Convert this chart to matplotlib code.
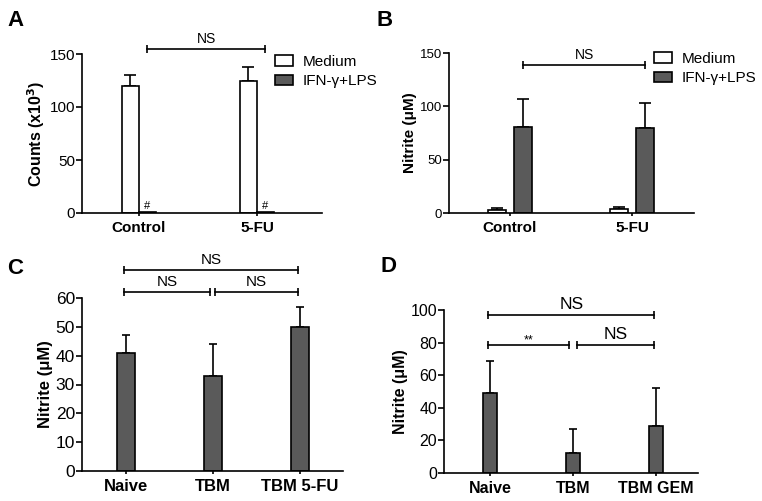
import numpy as np
import matplotlib
matplotlib.use('Agg')
import matplotlib.pyplot as plt
import matplotlib.transforms as mtransforms

plt.rcParams['font.family'] = ['Liberation Sans', 'DejaVu Sans']

# panel A: cell counts (x10^3)
groups_ab = ['Control', '5-FU']
a_medium = [120, 125]
a_medium_err = [10, 13]
a_ifn = [0.6, 0.6]

# panel B: nitrite (uM)
b_medium = [2.5, 3.5]
b_medium_err = [2, 2.5]
b_ifn = [81, 80]
b_ifn_err = [26, 23]

# panel C
c_groups = ['Naive', 'TBM', 'TBM 5-FU']
c_vals = [41, 33, 50]
c_err = [6, 11, 7]

# panel D
d_groups = ['Naive', 'TBM', 'TBM GEM']
d_vals = [49, 12, 29]
d_err = [19.5, 15, 23]

gray = '#5a5a5a'
W, H = 762, 501
fig = plt.figure(figsize=(W / 100, H / 100), dpi=100)


def px_axes(l, r, t, b):
    return fig.add_axes([l / W, 1 - b / H, (r - l) / W, (b - t) / H])


def style(ax, ytick_size, xtick_size):
    for s in ['top', 'right']:
        ax.spines[s].set_visible(False)
    for s in ['left', 'bottom']:
        ax.spines[s].set_linewidth(1.2)
    ax.tick_params(axis='y', length=4, width=1.2, labelsize=ytick_size, pad=1)
    ax.tick_params(axis='x', length=2.5, width=1.2, labelsize=xtick_size, pad=3)
    for lab in ax.get_xticklabels():
        lab.set_fontweight('bold')


def bracket(ax, x1, x2, y, text, size, cap=3, dy=2):
    ax.plot([x1, x2], [y, y], color='black', lw=1.2, clip_on=False)
    ax.plot([x1, x2], [y, y], ls='none', marker='|', markersize=2 * cap,
            markeredgewidth=1.2, color='black', clip_on=False)
    tt = mtransforms.offset_copy(ax.transData, fig=fig, y=dy, units='points')
    ax.text((x1 + x2) / 2, y, text, ha='center', va='bottom', fontsize=size,
            transform=tt, clip_on=False)


def errs(ax, x, v, e, cap=3):
    ax.errorbar(x, v, yerr=[np.zeros(len(e)), e], fmt='none', ecolor='black',
                elinewidth=1.2, capsize=cap, capthick=1.2, zorder=1)


# ---------- A ----------
ax = px_axes(82, 322, 54, 213)
x = np.arange(2)
bw = 0.144
errs(ax, x - bw / 2, a_medium, a_medium_err, cap=4)
m1 = ax.bar(x - bw / 2, a_medium, bw, color='white', edgecolor='black', lw=1.2, zorder=2)
m2 = ax.bar(x + bw / 2, a_ifn, bw, color=gray, edgecolor='black', lw=1.2, zorder=2)
for xi in x:
    ax.text(xi + bw / 2, 2, '#', ha='center', va='bottom', fontsize=8)
ax.set_xlim(-0.483, 1.551)
ax.set_ylim(0, 150)
ax.set_yticks([0, 50, 100, 150])
ax.set_xticks(x)
ax.set_xticklabels(groups_ab)
ax.set_ylabel('Counts (x10$^{\\mathbf{3}}$)', fontsize=11.5, fontweight='bold', labelpad=2)
style(ax, 11, 11)
bracket(ax, x[0] + bw / 2, x[1] + bw / 2, 155, 'NS', 10)
ax.legend([m1, m2], ['Medium', 'IFN-γ+LPS'], loc='upper left',
          bbox_to_anchor=(275 / W, 1 - 55 / H), bbox_transform=fig.transFigure,
          frameon=False, fontsize=11, handlelength=1.2, handleheight=0.7,
          handletextpad=0.6, labelspacing=0.35, borderpad=0, borderaxespad=0)
fig.text(7 / W, 1 - 26 / H, 'A', fontsize=16, fontweight='bold')

# ---------- B ----------
ax = px_axes(449, 694, 53, 213)
bw = 0.148
off = 0.107
errs(ax, x - off, b_medium, b_medium_err, cap=4)
errs(ax, x + off, b_ifn, b_ifn_err, cap=4)
m1 = ax.bar(x - off, b_medium, bw, color='white', edgecolor='black', lw=1.2, zorder=2)
m2 = ax.bar(x + off, b_ifn, bw, color=gray, edgecolor='black', lw=1.2, zorder=2)
ax.set_xlim(-0.5, 1.508)
ax.set_ylim(0, 150)
ax.set_yticks([0, 50, 100, 150])
ax.set_xticks(x)
ax.set_xticklabels(groups_ab)
ax.set_ylabel('Nitrite (μM)', fontsize=11, fontweight='bold', labelpad=2)
style(ax, 9.5, 11)
bracket(ax, x[0] + off, x[1] + off, 139, 'NS', 10)
ax.legend([m1, m2], ['Medium', 'IFN-γ+LPS'], loc='upper left',
          bbox_to_anchor=(654 / W, 1 - 52 / H), bbox_transform=fig.transFigure,
          frameon=False, fontsize=11, handlelength=1.2, handleheight=0.7,
          handletextpad=0.6, labelspacing=0.35, borderpad=0, borderaxespad=0)
fig.text(376 / W, 1 - 26 / H, 'B', fontsize=16, fontweight='bold')

# ---------- C ----------
ax = px_axes(82, 343, 298, 471)
x3 = np.arange(3)
bw = 0.207
errs(ax, x3, c_vals, c_err, cap=3)
ax.bar(x3, c_vals, bw, color=gray, edgecolor='black', lw=1.2, zorder=2)
ax.set_xlim(-0.506, 2.494)
ax.set_ylim(0, 60)
ax.set_yticks(np.arange(0, 61, 10))
ax.set_xticks(x3)
ax.set_xticklabels(c_groups)
ax.set_ylabel('Nitrite (μM)', fontsize=12, fontweight='bold', labelpad=2)
style(ax, 12.5, 12)
bracket(ax, -0.02, 0.96, 62, 'NS', 11)
bracket(ax, 1.02, 1.98, 62, 'NS', 11)
bracket(ax, -0.02, 1.98, 69.7, 'NS', 11)
fig.text(7 / W, 1 - 274 / H, 'C', fontsize=16, fontweight='bold')

# ---------- D ----------
ax = px_axes(444, 698, 310, 473)
bw = 0.169
errs(ax, x3, d_vals, d_err, cap=3)
ax.bar(x3, d_vals, bw, color=gray, edgecolor='black', lw=1.2, zorder=2)
ax.set_xlim(-0.554, 2.506)
ax.set_ylim(0, 100)
ax.set_yticks(np.arange(0, 101, 20))
ax.set_xticks(x3)
ax.set_xticklabels(d_groups)
ax.set_ylabel('Nitrite (μM)', fontsize=11.5, fontweight='bold', labelpad=2)
style(ax, 11.5, 11.5)
bracket(ax, -0.02, 0.95, 78.5, '**', 9, dy=-1)
bracket(ax, 1.05, 1.98, 78.5, 'NS', 12.5)
bracket(ax, -0.02, 1.98, 97, 'NS', 12.5)
fig.text(381 / W, 1 - 272 / H, 'D', fontsize=16, fontweight='bold')

fig.savefig('out.png', dpi=100)
